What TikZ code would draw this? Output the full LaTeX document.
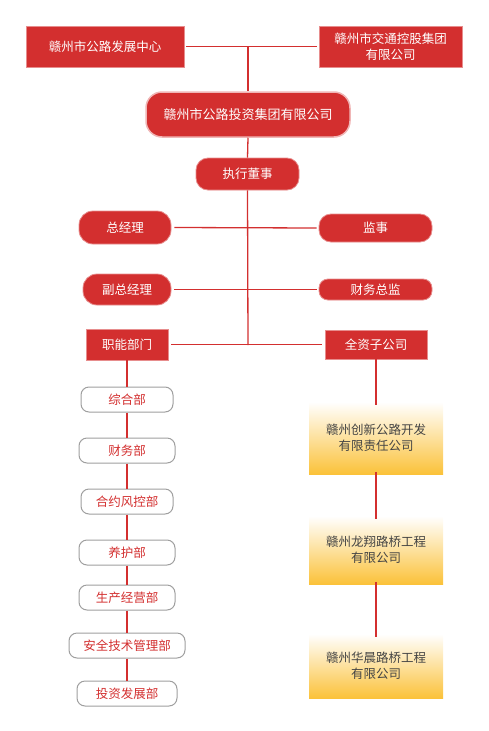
\documentclass[tikz,border=0pt]{standalone}
\usepackage{fontspec}
\setmainfont{Noto Sans CJK SC}
\definecolor{hred}{RGB}{211,47,47}
\definecolor{hyel}{RGB}{251,194,58}
\definecolor{htxt}{RGB}{68,68,68}
\begin{document}
\begin{tikzpicture}[x=1pt,y=-1pt,
  base/.style={inner sep=0pt,align=center,font=\fontsize{12.5}{16}\selectfont},
  redbox/.style={base,fill=hred,draw=hred!55!white,line width=0.8pt,text=white},
  pill/.style={redbox,rounded corners=#1},
  dept/.style={base,fill=white,draw=gray!75,line width=1pt,text=hred,rounded corners=8pt,minimum height=25pt},
  sub/.style={base,top color=white,bottom color=hyel,text=htxt,minimum width=134pt},
  link/.style={draw=hred,line width=1.3pt}]
\useasboundingbox (0,0) rectangle (489,731);
% top level
\node[redbox,minimum width=158pt,minimum height=41pt] (tl) at (105,46.5) {赣州市公路发展中心};
\node[redbox,minimum width=143pt,minimum height=41pt] (tr) at (390.5,46.5) {赣州市交通控股集团\\有限公司};
\coordinate (j0) at (248,46.5);
\node[pill=16pt,minimum width=204pt,minimum height=45pt,draw=hred!35!white,line width=1.5pt,font=\fontsize{13}{16}\selectfont] (main) at (248,114.5) {赣州市公路投资集团有限公司};
\node[pill=12pt,minimum width=103pt,minimum height=32pt] (exec) at (247.5,174) {执行董事};
\node[pill=14pt,minimum width=92pt,minimum height=33pt] (gm) at (125,227.5) {总经理};
\node[pill=12pt,minimum width=113pt,minimum height=28pt] (sup) at (375.5,228) {监事};
\node[pill=14pt,minimum width=88pt,minimum height=31pt] (dgm) at (127,289.5) {副总经理};
\node[pill=9pt,minimum width=113pt,minimum height=21pt] (cfo) at (375.5,289.5) {财务总监};
\node[redbox,minimum width=82pt,minimum height=31pt] (func) at (127,344.5) {职能部门};
\node[redbox,minimum width=102pt,minimum height=29pt] (subs) at (376,344.5) {全资子公司};
\coordinate (jb) at (248,345);
% departments
\node[dept,minimum width=92pt] (d1) at (127,399.5) {综合部};
\node[dept,minimum width=96pt] (d2) at (127,450.5) {财务部};
\node[dept,minimum width=92pt] (d3) at (127,501.5) {合约风控部};
\node[dept,minimum width=96pt] (d4) at (127,552.5) {养护部};
\node[dept,minimum width=96pt] (d5) at (127,597.5) {生产经营部};
\node[dept,minimum width=116pt] (d6) at (127,645.5) {安全技术管理部};
\node[dept,minimum width=100pt] (d7) at (127,693.5) {投资发展部};
% subsidiaries
\node[sub,minimum height=72pt] (s1) at (376,438) {赣州创新公路开发\\有限责任公司};
\node[sub,minimum height=68pt] (s2) at (376,550) {赣州龙翔路桥工程\\有限公司};
\node[sub,minimum height=64pt] (s3) at (376,666) {赣州华晨路桥工程\\有限公司};
% connectors
\draw[link] ([xshift=2pt]tl.east) -- ([xshift=-2pt]tr.west);
\draw[link] (j0) -- (main.north);
\draw[link] (main.south) -- (exec.north);
\draw[link] (exec.south) -- (jb);
\draw[link] ([xshift=3pt]gm.east) -- ([xshift=-2pt]sup.west);
\draw[link] ([xshift=3pt]dgm.east) -- ([xshift=-2pt]cfo.west);
\draw[link] ([xshift=3pt]func.east) -- ([xshift=-3pt]subs.west);
\draw[link] ([yshift=2pt]func.south) -- (d1.north);
\draw[link] (d1) -- (d2);
\draw[link] (d2) -- (d3);
\draw[link] (d3) -- (d4);
\draw[link] (d4) -- (d5);
\draw[link] (d5) -- (d6);
\draw[link] (d6) -- (d7);
\draw[link] ([yshift=2pt]subs.south) -- ([yshift=-3pt]s1.north);
\draw[link] ([yshift=2pt]s1.south) -- ([yshift=-3pt]s2.north);
\draw[link] ([yshift=2pt]s2.south) -- ([yshift=-3pt]s3.north);
\end{tikzpicture}
\end{document}
